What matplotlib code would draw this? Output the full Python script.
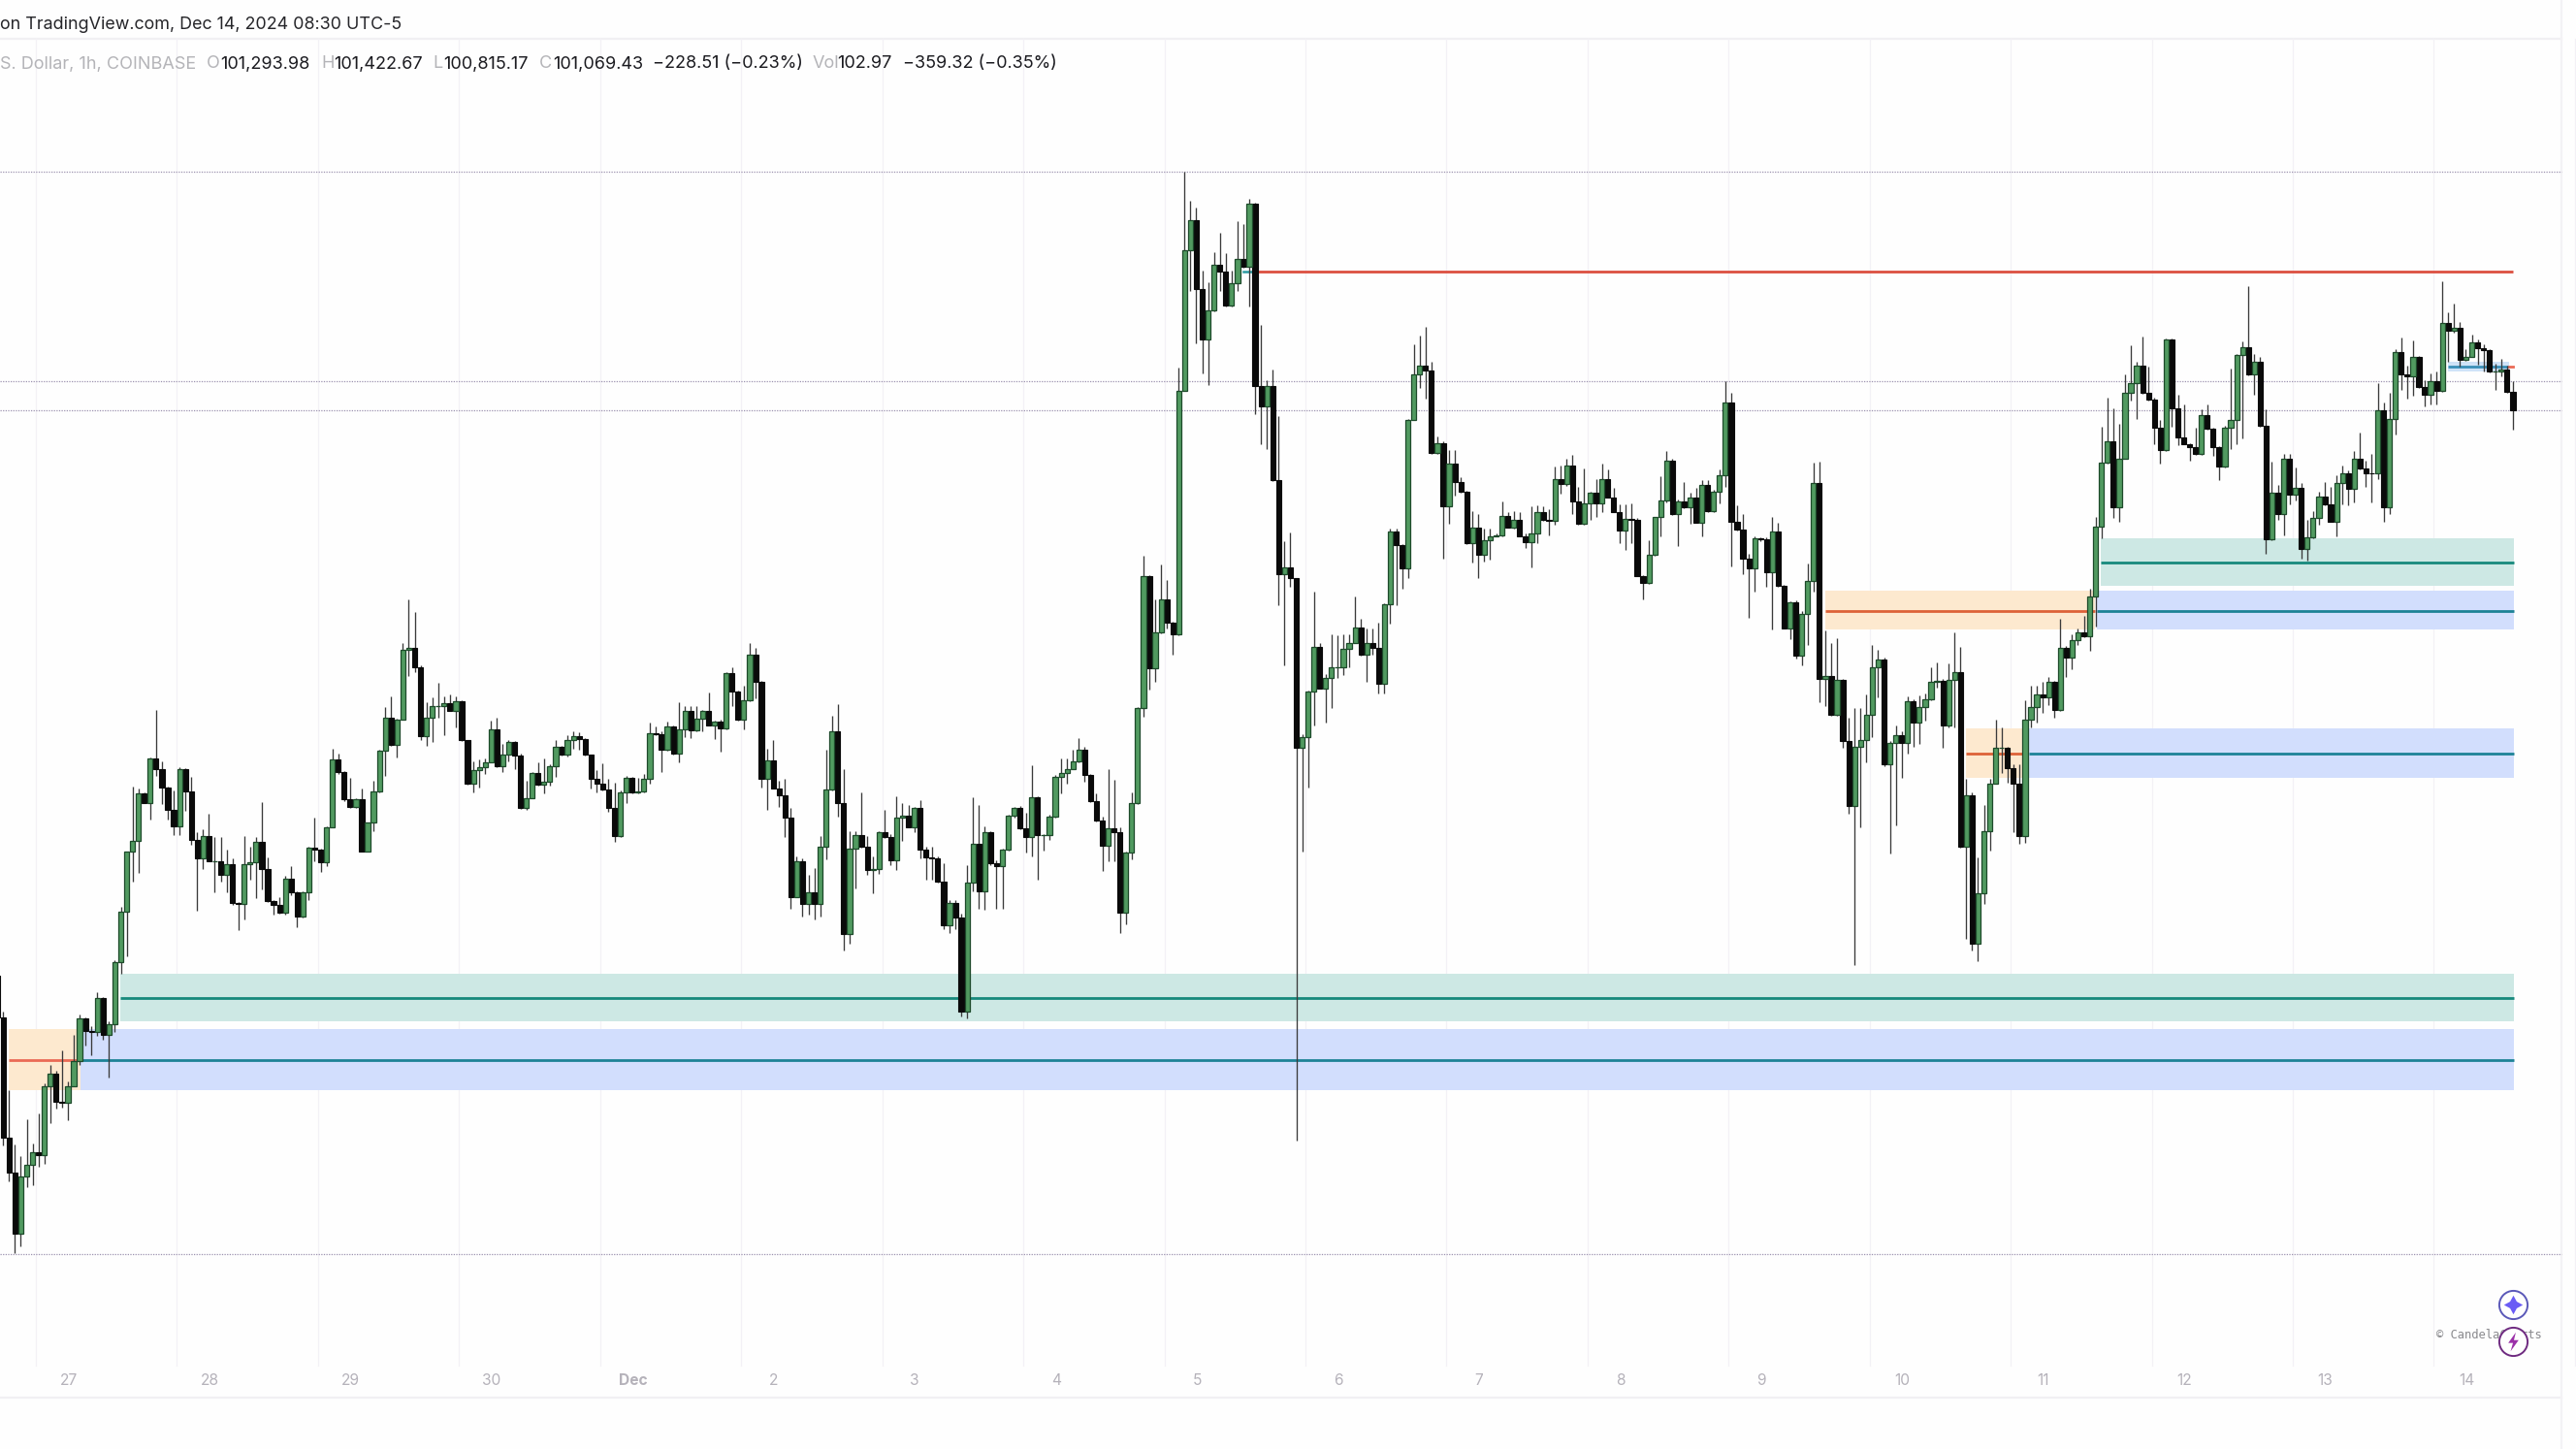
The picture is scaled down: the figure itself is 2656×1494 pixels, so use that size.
import matplotlib
matplotlib.use("Agg")
import matplotlib.pyplot as plt
import numpy as np

W, H = 2656, 1494

first_open = 94030
closes = [
93510,92030,91590,90840,91550,91690,91840,91810,92660,92820,
92470,92460,92660,92970,93500,93350,93330,93750,93300,93430,
94200,94816,95560,95700,96280,96170,96720,96580,96360,96080,
95880,96590,96310,95710,95480,95760,95450,95450,95280,95410,
94930,94920,95410,95430,95680,95350,94950,94910,94810,95225,
95055,94756,95055,95607,95590,95430,95870,96710,96550,96210,
96120,96210,95570,95920,96310,96817,97217,96886,97200,98060,
98090,97850,96990,97220,97360,97370,97400,97310,97430,96940,
96400,96570,96610,96670,97080,96620,96760,96920,96750,96110,
96230,96540,96390,96430,96620,96860,96760,96950,96990,96960,
96760,96460,96400,96330,96100,95760,96300,96480,96300,96310,
96460,97030,97020,96820,97110,96780,97080,97300,97060,97210,
97310,97130,97170,97090,97770,97550,97200,97440,98000,97670,
96470,96690,96350,96260,95990,95000,95440,94920,95060,94920,
95630,96330,97050,96160,94550,95600,95770,95620,95340,95350,
95800,95740,95460,95990,96010,95870,96100,95590,95490,95480,
95190,94650,94930,94750,93580,95180,95660,95070,95800,95420,
95380,95590,96010,96110,95850,95740,96240,95770,95770,96000,
96490,96540,96590,96680,96820,96510,96190,95950,95640,95850,
95800,94810,95550,96160,97340,98970,97830,98280,98680,98400,
98250,101270,103010,103380,102520,101900,102265,102830,102735,102320,
102600,102900,102800,103577,101330,101070,101320,100160,99000,99080,
98945,96850,96980,97540,98100,97575,97710,97850,97850,98070,
98150,98340,98000,98140,98080,97640,98630,99530,99360,99070,
100910,101470,101580,101520,100495,100620,99840,100370,100140,100020,
99380,99575,99240,99415,99470,99480,99720,99575,99670,99470,
99390,99500,99770,99670,99660,100170,100110,100340,99900,99620,
99875,100000,99875,100170,99950,99770,99540,99680,99670,98975,
98885,99240,99700,99905,100400,99735,99900,99820,99945,99635,
100095,99780,100020,100220,101115,99650,99550,99185,99070,99435,
99430,99020,99530,98850,98330,98650,97990,98500,98910,100120,
97695,97740,97260,97685,96935,96125,96860,96950,97260,97840,
97940,96640,96910,97010,96910,97420,97165,97350,97450,97660,
97680,97130,97690,97790,95620,96260,94425,95050,95820,96405,
96845,96845,96600,96405,95760,97200,97350,97510,97475,97660,
97315,98085,97970,98175,98280,98230,98720,99580,100380,100635,
99825,100430,101235,101360,101580,101240,101160,100810,100530,101900,
101050,100690,100610,100570,100480,100960,100800,100570,100330,100810,
100900,101710,101810,101470,101620,100830,99430,100010,99740,100430,
99980,100060,99310,99450,99690,99960,99860,99650,100120,100240,
100050,100420,100300,100250,100240,101030,99830,100920,101740,101470,
101450,101690,101310,101220,101390,101260,102110,102010,102050,101650,
101690,101860,101790,101770,101500,101510,101530,101250,101020]
highs = [
94030,93590,92610,91940,91800,92250,91950,92320,92700,92920,
92850,93100,92720,93300,93550,93510,93410,93830,93770,93460,
94220,94885,95570,96366,96340,96300,96730,97320,96680,96370,
96320,96610,96600,96490,95810,95840,96030,95740,95740,95590,
95480,94940,95760,95630,95745,96180,95490,94960,95000,95260,
95380,95070,95070,95620,95990,95600,95880,96835,96780,96560,
96480,96220,96340,95930,96435,96830,97355,97490,97210,98140,
98690,98530,97870,97410,97470,97650,97480,97510,97480,97440,
96950,96680,96700,96720,97180,97220,96900,96950,96930,96780,
96440,96550,96670,96720,96650,96950,96870,97000,97050,97040,
96970,96770,96570,96660,96460,96420,96320,96500,96490,96480,
96520,97160,97110,97050,97170,97130,97410,97360,97360,97360,
97320,97530,97190,97200,97780,97840,97560,97620,98140,98080,
97680,96840,96940,96440,96470,96100,95500,95480,95280,95360,
95760,96820,97240,97390,96580,95820,95820,96300,95760,95500,
95820,96080,95780,96250,96170,96140,96120,96200,95620,95620,
95500,95420,94960,94960,94800,95400,96240,96140,95880,95820,
95460,95600,96020,96120,96130,96050,96630,96250,95780,96020,
96510,96720,96720,96820,96970,96860,96520,96280,96000,96580,
96450,95870,95570,96300,97350,99220,98990,98680,99115,98930,
98410,101550,103980,103620,103530,102750,102610,102980,103220,102965,
102750,103370,103330,103640,103590,102080,101400,101530,100955,99400,
99515,98950,97020,97560,98780,98150,97760,98255,98240,98255,
98255,98715,98450,98330,98330,98400,98640,99560,99560,99370,
100920,101840,101950,102060,101620,100700,100640,100530,100530,100200,
100030,99780,99740,99560,99560,99500,99900,99760,99780,99760,
99500,99840,99850,99840,99800,100325,100335,100420,100470,100080,
100310,100020,100170,100370,100290,100060,99860,99860,99875,99690,
98990,99415,99710,100205,100520,100430,99920,100135,100010,100060,
100160,100160,100040,100290,101390,101245,99850,99735,99250,99470,
99450,99450,99710,99635,98860,98660,98670,98540,99130,100375,
100390,98305,98150,98200,97700,97220,97340,97340,97510,98120,
98060,97960,96930,97130,97050,97480,97450,97500,97520,97840,
97900,97700,97890,98280,98100,96470,96300,95490,96135,96460,
97200,97105,96860,96640,96640,97435,97620,97620,97660,97730,
97680,98440,98110,98250,98320,98480,98820,99700,100815,101185,
101050,100860,101465,101830,101620,101940,101570,101180,100900,101910,
101910,101220,101100,100620,100810,101040,101100,100810,100580,100830,
101540,101720,101880,102560,101720,101690,101040,100390,100100,100480,
100480,100320,100130,99670,99780,100020,100140,100080,100220,100340,
100280,100520,100750,100400,100480,101360,101120,101240,101780,101920,
101580,101890,101700,101400,101480,101500,102620,102240,102340,102120,
101780,101960,101900,101840,101780,101600,101660,101580,101380]
lows = [
93400,91930,91490,90600,90680,91410,91440,91670,91700,92200,
92390,92400,92240,92660,92930,93160,93040,93280,93240,92770,
93330,94057,94270,95190,95300,96160,95960,96500,96150,95960,
95770,95770,96070,95650,94830,95350,95440,95055,95190,95055,
94910,94590,94720,95215,94990,95100,94940,94780,94800,94790,
95030,94630,94750,94960,95450,95310,95380,95860,96530,96190,
96110,96110,95560,95560,95820,96300,96500,96870,96730,97200,
97740,97780,96950,96870,96920,97220,97010,97300,97100,96930,
96390,96300,96360,96520,96670,96610,96550,96680,96580,96090,
96080,96220,96380,96280,96380,96490,96750,96740,96840,96820,
96750,96340,96300,96320,96060,95690,95750,96160,96290,96280,
96300,96410,97010,96550,96810,96770,96670,96980,96970,97050,
97050,97120,96960,96800,97080,97360,97190,97080,97430,97460,
96360,96080,96340,96120,95750,94860,95000,94760,94780,94720,
94760,95470,96320,96000,94340,94430,95110,95610,95280,95050,
95290,95730,95400,95340,95700,95860,95800,95480,95220,95220,
95180,94600,94560,94600,93520,93500,95070,94860,94840,95400,
94860,94860,95580,95990,95840,95550,95500,95220,95580,95710,
95990,96290,96410,96580,96670,96430,96180,95940,95330,95440,
95440,94560,94670,95470,96150,97230,97565,97660,98270,98330,
98000,98240,101280,102500,101850,101480,101340,102250,102500,102310,
102310,102500,102790,102310,100980,100610,100540,100150,98610,97870,
98840,91990,95570,96360,97120,97580,97160,97335,97710,97750,
97850,98140,97990,97660,98000,97520,97520,98390,98610,98820,
98945,100900,101300,101170,100490,100480,99190,99620,99970,100010,
99370,99140,98950,99150,99175,99460,99470,99570,99560,99460,
99320,99080,99380,99660,99480,99610,99990,100090,99735,99610,
99610,99670,99710,99760,99940,99760,99380,99300,99380,98970,
98680,98880,99230,99460,99890,99730,99345,99810,99620,99630,
99460,99770,99770,99875,100080,99090,99540,99000,98460,98785,
99410,98840,98310,98840,98320,98190,97950,97865,98125,98785,
97415,97360,97250,97240,96850,96030,94155,95870,96665,96975,
97470,96615,95540,95890,96480,96775,96860,96895,97190,97440,
97590,96845,97105,97105,95610,94480,94335,94205,94915,95575,
96400,96540,96420,95805,95660,95675,97105,97155,97280,97375,
97220,97300,97720,97825,98125,98220,98045,98345,99440,100370,
99690,99640,100420,101140,100920,101230,101140,100600,100360,100520,
100820,100590,100600,100400,100470,100470,100790,100460,100160,100320,
100550,100600,100680,101460,101220,100820,99250,99420,99670,99480,
99860,99910,99190,99170,99440,99610,99850,99640,99460,99860,
99850,99880,100290,100080,99880,100170,99650,99740,100720,101280,
101170,101210,101300,101070,101100,101100,101250,101620,101990,101560,
101640,101680,101590,101500,101490,101280,101450,101240,100780]
assert len(closes) == len(highs) == len(lows), (len(closes), len(highs), len(lows))

day_labels = ["27","28","29","30","Dec","2","3","4","5","6","7","8","9","10","11","12","13","14"]
dotted_levels = [103976, 101384, 101024, 90584]
# zones: start bar, end bar, low, high, mid, band colour, line colour
zones = [
    (20.9, 428.2, 93464, 94052, 93752, "#cde8e4", "#17897c"),
    (14.15, 428.2, 92612, 93368, 92984, "#d2defd", "#1d8296"),
    (1.94, 14.15, 92612, 93368, 92984, "#fde9cf", "#ea6a55"),
    (357.9, 428.2, 98852, 99440, 99140, "#cde8e4", "#17897c"),
    (357.2, 428.2, 98312, 98792, 98540, "#d2defd", "#1d8296"),
    (311.0, 356.9, 98312, 98792, 98540, "#fde9cf", "#dd6238"),
    (345.7, 428.2, 96476, 97088, 96776, "#d2defd", "#1d8296"),
    (334.9, 344.5, 96476, 97088, 96776, "#fde9cf", "#dd6238"),
    (416.95, 427.4, 101504, 101624, 101564, "#cfe3f8", "#3a8fb8"),
]
res_level, res_start, res_end = 102740, 214.15, 428.0

bar_px = 6.06
bar_off = -2.75
px_x = lambda x: (x - bar_off) / bar_px
px_y = lambda y: 106100 - 12 * y

fig = plt.figure(figsize=(W/100, H/100), dpi=100, facecolor="#fefefe")
ax = fig.add_axes([0, 0, 1, 1])
ax.set_xlim(px_x(0), px_x(W))
ax.set_ylim(px_y(H), px_y(0))
ax.axis("off")

# frame
ax.plot([px_x(0), px_x(2641)], [px_y(40)]*2, color="#f1f0f3", lw=1.6, zorder=1)
ax.plot([px_x(0), px_x(2641)], [px_y(1441)]*2, color="#f1f0f3", lw=1.6, zorder=1)
ax.plot([px_x(2641)]*2, [px_y(0), px_y(1494)], color="#f3f2f5", lw=1.6, zorder=1)

# day grid
for n in range(19):
    gx = 6.56 + 24*n
    ax.plot([gx, gx], [px_y(40), px_y(1408)], color="#f3f1f6", lw=0.9, zorder=1)
for n, lab in enumerate(day_labels):
    ax.text(12.1 + 24*n, px_y(1423), lab, ha="center", va="center", fontsize=11.2,
            family="Inter", color="#b5b2ba", fontweight="bold" if lab == "Dec" else "normal")

for lv in dotted_levels:
    ax.plot([px_x(0), px_x(2641)], [lv, lv], color="#9d93b0", lw=0.9, ls=(0, (1, 1.1)), zorder=2)

for s, e, lo, hi, mid, bc, lc in zones:
    ax.fill_between([s, e], lo, hi, color=bc, lw=0, zorder=1.5)
    ax.plot([s, e], [mid, mid], color=lc, lw=2.0, zorder=2.5, solid_capstyle="butt")
ax.plot([427.4, 428.0], [101564, 101564], color="#ea6a55", lw=2.0, zorder=2.5)
ax.plot([res_start, res_end], [res_level]*2, color="#dc4f40", lw=2.0, zorder=2.5, solid_capstyle="butt")
ax.plot([212, 214.15], [res_level]*2, color="#2a9aa0", lw=1.8, zorder=2.5)

# candles
c = np.array(closes, float)
o = np.r_[first_open, c[:-1]]
hi = np.maximum(np.array(highs, float), np.maximum(o, c))
lo = np.minimum(np.array(lows, float), np.minimum(o, c))
k = np.arange(len(c))
up = c >= o
ax.vlines(k, lo, hi, color="#3a3a3a", lw=0.95, zorder=3)
ax.bar(k[~up], (o-c)[~up], bottom=c[~up], width=0.86, color="#0a0a0a", edgecolor="#0a0a0a", lw=0.8, zorder=4)
ax.bar(k[up], (c-o)[up], bottom=o[up], width=0.86, color="#519a60", edgecolor="#1d4a2a", lw=0.9, zorder=4)

# text
def T(x, y, s, color, size=13.0, **kw):
    fig.text(x/W, 1-y/H, s, color=color, fontsize=size, family="Inter", va="center", ha="left", **kw)

T(0, 25, "on TradingView.com, Dec 14, 2024 08:30 UTC-5", "#26262a", 12.9)
G, N = "#b4b4b8", "#1b1b20"
for x, s, col in [(0, "S. Dollar, 1h, COINBASE", G), (213, "O", G), (227, "101,293.98", N),
                  (331, "H", G), (344, "101,422.67", N), (446, "L", G), (457, "100,815.17", N),
                  (556, "C", G), (570, "101,069.43", N), (673, "\u2212228.51 (\u22120.23%)", N),
                  (838, "Vol", G), (863, "102.97", N), (931, "\u2212359.32 (\u22120.35%)", N)]:
    T(x, 66, s, col, 13.0)

fig.text(2512/W, 1-1377/H, "\u00a9 CandelaCharts", color="#8a8a8e", fontsize=8.7,
         family="DejaVu Sans Mono", va="center", ha="left", zorder=6)

# badges
ax2 = fig.add_axes([0, 0, 1, 1], facecolor="none")
ax2.set_xlim(0, W); ax2.set_ylim(H, 0); ax2.axis("off"); ax2.set_zorder(10)
ax2.plot([2591], [1345], "o", ms=21, mfc="#fefefe", mec="#5a58b8", mew=1.4)
ax2.plot([2591], [1345], marker=(4, 1, 0), ms=14, color="#6a5cf5", mew=0)
ax2.plot([2591], [1383], "o", ms=21, mfc="#fefefe", mec="#6e2a80", mew=1.4)
bolt = [(0.25,1),(-0.55,-0.12),(-0.05,-0.12),(-0.3,-1),(0.55,0.18),(0.05,0.18)]
ax2.plot([2591], [1383], marker=bolt, ms=14, color="#9b30a8", mew=0)

fig.savefig("out.png", dpi=100, facecolor=fig.get_facecolor())
